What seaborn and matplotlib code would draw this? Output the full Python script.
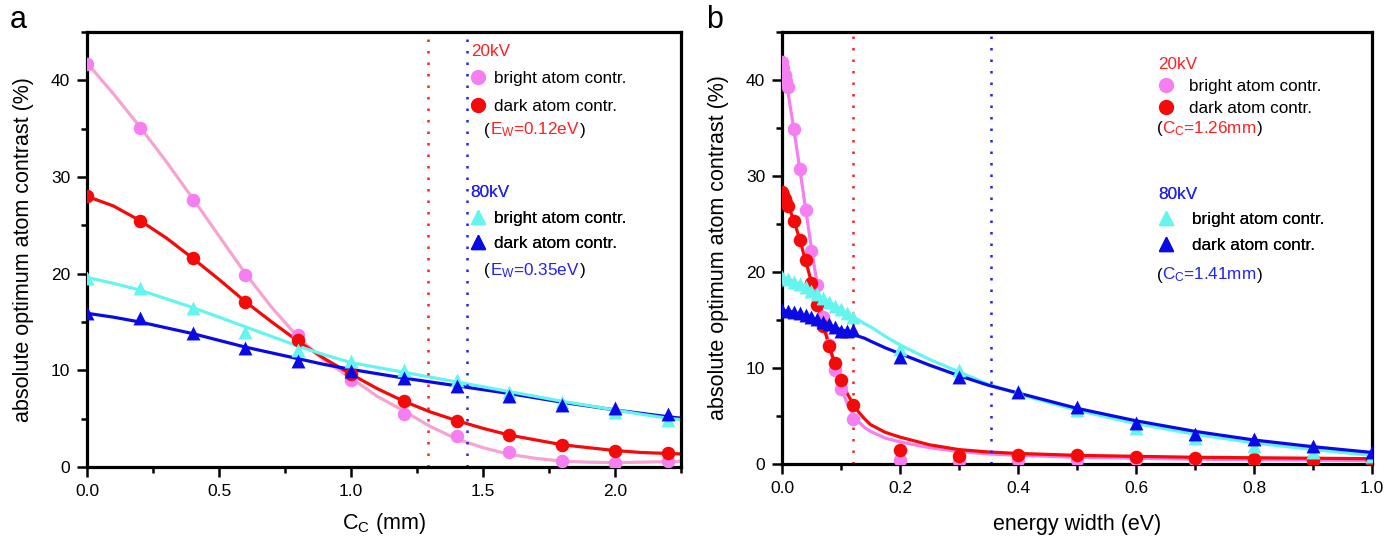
import matplotlib
matplotlib.use("Agg")
import matplotlib.pyplot as plt
from matplotlib.lines import Line2D
from matplotlib.ticker import MultipleLocator, FuncFormatter
from matplotlib.offsetbox import TextArea, HPacker, AnchoredOffsetbox
import seaborn as sns

# ---------------- panel a : contrast vs Cc (mm) ----------------
cc_pts = [0.0, 0.2, 0.4, 0.6, 0.8, 1.0, 1.2, 1.4, 1.6, 1.8, 2.0, 2.2]
a_bright20 = [41.7, 35.1, 27.6, 19.9, 13.7, 9.0, 5.5, 3.2, 1.6, 0.6, 0.4, 0.6]
a_dark20 = [28.0, 25.4, 21.6, 17.1, 13.1, 9.6, 6.8, 4.8, 3.3, 2.3, 1.7, 1.4]
a_bright80 = [19.5, 18.5, 16.4, 14.0, 12.1, 11.0, 10.0, 9.0, 7.8, 6.7, 5.7, 4.9]
a_dark80 = [15.9, 15.4, 13.9, 12.3, 11.0, 9.9, 9.2, 8.4, 7.3, 6.4, 6.1, 5.5]

# fitted curves
cc_fit = [0.0, 0.1, 0.2, 0.3, 0.4, 0.5, 0.6, 0.7, 0.8, 0.9, 1.0, 1.1,
          1.2, 1.3, 1.4, 1.5, 1.6, 1.7, 1.8, 1.9, 2.0, 2.1, 2.2, 2.25]
a_fit_bright20 = [41.8, 38.6, 35.2, 31.6, 27.8, 23.9, 20.0, 16.5, 13.4, 11.0, 9.2, 7.3,
                  5.8, 4.2, 2.9, 2.0, 1.3, 0.9, 0.6, 0.5, 0.45, 0.5, 0.55, 0.6]
a_fit_dark20 = [28.0, 27.0, 25.5, 23.7, 21.6, 19.4, 17.1, 15.0, 13.0, 11.2, 9.6, 8.1,
                6.8, 5.7, 4.8, 4.0, 3.3, 2.8, 2.3, 2.0, 1.7, 1.5, 1.4, 1.35]
a_fit_bright80 = [19.6, 19.0, 18.3, 17.4, 16.5, 15.5, 14.5, 13.5, 12.5, 11.6, 10.8, 10.3,
                  9.8, 9.3, 8.8, 8.3, 7.8, 7.3, 6.8, 6.35, 5.9, 5.45, 5.05, 4.9]
a_fit_dark80 = [15.9, 15.5, 15.0, 14.4, 13.8, 13.1, 12.4, 11.8, 11.2, 10.6, 10.1, 9.65,
                9.2, 8.8, 8.4, 8.0, 7.6, 7.15, 6.7, 6.3, 5.9, 5.55, 5.2, 5.05]
a_marks = [1.29, 1.44]  # dotted lines (20kV, 80kV)

# ---------------- panel b : contrast vs energy width (eV) ----------------
ew_circ = [0.0, 0.0025, 0.005, 0.0075, 0.01, 0.02, 0.03, 0.04, 0.05, 0.06, 0.07, 0.08,
           0.09, 0.10, 0.12, 0.2, 0.3, 0.4, 0.5, 0.6, 0.7, 0.8, 0.9, 1.0]
b_bright20 = [41.9, 41.2, 40.5, 39.9, 39.3, 34.9, 30.7, 26.5, 22.2, 18.6, 15.3, 12.4,
              9.8, 7.8, 4.7, 0.4, 0.35, 0.4, 0.45, 0.5, 0.45, 0.4, 0.4, 0.35]
b_dark20 = [28.3, 28.0, 27.6, 27.2, 26.9, 25.3, 23.3, 21.2, 18.9, 16.6, 14.4, 12.3,
            10.5, 8.8, 6.1, 1.5, 0.8, 0.95, 0.95, 0.7, 0.6, 0.5, 0.45, 0.45]
ew_tri = [0.0, 0.01, 0.02, 0.03, 0.04, 0.05, 0.06, 0.07, 0.08, 0.09, 0.10, 0.11, 0.12,
          0.2, 0.3, 0.4, 0.5, 0.6, 0.7, 0.8, 0.9, 1.0]
b_bright80 = [19.5, 19.3, 19.0, 18.7, 18.4, 18.0, 17.7, 17.3, 16.9, 16.5, 16.1, 15.7, 15.3,
              12.0, 9.8, 7.6, 5.6, 3.8, 2.75, 1.9, 1.2, 0.8]
b_dark80 = [16.0, 15.9, 15.8, 15.7, 15.5, 15.3, 15.1, 14.8, 14.6, 14.3, 13.9, 13.9, 14.0,
            11.1, 9.1, 7.5, 5.9, 4.3, 3.1, 2.6, 1.9, 1.2]

ew_fit = [0.0, 0.01, 0.02, 0.03, 0.04, 0.05, 0.06, 0.07, 0.08, 0.09, 0.10, 0.11, 0.12, 0.13,
          0.14, 0.15, 0.175, 0.2, 0.25, 0.3, 0.35, 0.4, 0.5, 0.6, 0.7, 0.8, 0.9, 1.0]
b_fit_bright20 = [42.0, 38.8, 34.9, 30.8, 26.6, 22.4, 18.6, 15.2, 12.3, 9.9, 8.0, 6.4, 5.2, 4.4,
                  3.8, 3.4, 2.7, 2.3, 1.7, 1.3, 1.05, 0.9, 0.7, 0.6, 0.5, 0.45, 0.4, 0.35]
b_fit_dark20 = [28.2, 27.0, 25.4, 23.4, 21.2, 18.9, 16.6, 14.4, 12.3, 10.4, 8.8, 7.4, 6.3, 5.4,
                4.7, 4.1, 3.3, 2.8, 2.0, 1.5, 1.25, 1.1, 0.9, 0.8, 0.7, 0.65, 0.6, 0.55]
b_fit_bright80 = [19.5, 19.3, 19.0, 18.7, 18.3, 18.0, 17.6, 17.2, 16.8, 16.5, 16.1, 15.7, 15.3, 15.0,
                  14.6, 14.3, 13.3, 12.4, 10.9, 9.6, 8.3, 7.3, 5.6, 4.2, 3.1, 2.2, 1.5, 0.9]
b_fit_dark80 = [16.0, 15.9, 15.8, 15.6, 15.4, 15.2, 15.0, 14.7, 14.5, 14.2, 14.0, 13.8, 13.6, 13.3,
                13.1, 12.8, 12.1, 11.5, 10.3, 9.2, 8.2, 7.4, 5.8, 4.5, 3.4, 2.5, 1.8, 1.2]
b_marks = [0.12, 0.355]

# colours
PINK = "#f57ff0"
PINK_LINE_A = "#f7a3d2"
RED = "#f50a0a"
CYAN = "#66f5ee"
BLUE = "#0a0ae6"
RED_TXT = "#ff1f1f"
BLUE_TXT = "#2222f0"

sns.set_theme(style="ticks")
plt.rcParams["font.family"] = ["Liberation Sans", "DejaVu Sans"]
plt.rcParams["mathtext.fontset"] = "custom"
plt.rcParams["mathtext.rm"] = "Liberation Sans"
plt.rcParams["mathtext.it"] = "Liberation Sans:italic"
plt.rcParams["text.color"] = "black"
plt.rcParams["axes.labelcolor"] = "black"
plt.rcParams["xtick.color"] = "black"
plt.rcParams["ytick.color"] = "black"

FS_TXT = 12.3


def fit_line(ax, x, y, color, lw=2.3):
  sns.lineplot(x=x, y=y, ax=ax, color=color, linewidth=lw, sort=False, estimator=None)


def points(ax, x, y, color, marker, s):
  sns.scatterplot(x=x, y=y, ax=ax, color=color, marker=marker, s=s, linewidth=0, zorder=3)


def set_ticks(axis, step, every, fmt, long_len=7, short_len=4):
  # every tick is a major one; in-between ticks get no label and a shorter mark.
  # the marks are set tick by tick (the ones left to tick_params did not show)
  def is_labelled(v):
    k = v / step
    return abs(k - round(k)) < 1e-6 and round(k) % every == 0

  axis.set_major_locator(MultipleLocator(step))
  axis.set_major_formatter(FuncFormatter(lambda v, p: fmt.format(v) if is_labelled(v) else ""))
  locs = axis.get_majorticklocs()
  ticks = axis.get_major_ticks(len(locs))
  for t, loc in zip(ticks, locs):
    line = t.tick1line
    line.set_visible(True)
    line.set_markersize(long_len if is_labelled(loc) else short_len)
    line.set_markeredgewidth(1.8)
    line.set_markeredgecolor("black")
    line.set_color("black")
    line.set_alpha(1)
    line.set_zorder(5)


def style_axes(ax, xmax, xstep):
  ax.set_xlim(0, xmax)
  ax.set_ylim(0, 45)
  ax.tick_params(which="major", direction="out", length=7, width=1.8, color="black",
                 labelsize=12.5, pad=5)
  set_ticks(ax.xaxis, xstep, 2, "{:.1f}")
  set_ticks(ax.yaxis, 5, 2, "{:.0f}")
  for sp in ax.spines.values():
    sp.set_linewidth(2.3)
    sp.set_color("black")
    sp.set_visible(True)
  ax.set_ylabel("absolute optimum atom contrast (%)", fontsize=15.5, labelpad=12)


def legend_group(ax, title, color, handles, labels, anchor, textpad, spacing):
  leg = ax.legend(handles, labels, title=title, loc="upper left", bbox_to_anchor=anchor,
                  frameon=False, alignment="left", borderpad=0, borderaxespad=0,
                  handlelength=0.9, handletextpad=textpad, labelspacing=spacing,
                  fontsize=FS_TXT, title_fontsize=FS_TXT)
  leg.get_title().set_color(color)
  ax.add_artist(leg)


def note(ax, inner, color, xy):
  parts = [TextArea("(", textprops=dict(fontsize=FS_TXT, color="black")),
           TextArea(inner, textprops=dict(fontsize=FS_TXT, color=color)),
           TextArea(")", textprops=dict(fontsize=FS_TXT, color="black"))]
  box = HPacker(children=parts, align="baseline", pad=0, sep=0)
  anch = AnchoredOffsetbox(loc="center left", child=box, bbox_to_anchor=xy,
                           bbox_transform=ax.transAxes, frameon=False, pad=0, borderpad=0)
  ax.add_artist(anch)


def handles_20():
  return [Line2D([], [], ls="none", marker="o", color=PINK, markersize=10),
          Line2D([], [], ls="none", marker="o", color=RED, markersize=10)]


def handles_80():
  return [Line2D([], [], ls="none", marker="^", color=CYAN, markersize=10),
          Line2D([], [], ls="none", marker="^", color=BLUE, markersize=10)]


fig = plt.figure(figsize=(13.95, 5.38), dpi=100)
ax_a = fig.add_axes([0.06237, 0.13197, 0.4258, 0.8086])
ax_b = fig.add_axes([0.56057, 0.13755, 0.42294, 0.80297])

# ---- panel a ----
fit_line(ax_a, cc_fit, a_fit_bright20, PINK_LINE_A)
fit_line(ax_a, cc_fit, a_fit_dark20, RED)
fit_line(ax_a, cc_fit, a_fit_dark80, BLUE)
fit_line(ax_a, cc_fit, a_fit_bright80, CYAN)
points(ax_a, cc_pts, a_bright20, PINK, "o", 95)
points(ax_a, cc_pts, a_dark20, RED, "o", 95)
points(ax_a, cc_pts, a_bright80, CYAN, "^", 100)
points(ax_a, cc_pts, a_dark80, BLUE, "^", 100)
ax_a.axvline(a_marks[0], color=RED_TXT, linestyle=(0, (1, 3.6)), linewidth=1.8)
ax_a.axvline(a_marks[1], color=BLUE_TXT, linestyle=(0, (1, 3.6)), linewidth=1.8)
style_axes(ax_a, 2.25, 0.25)
ax_a.set_xlabel(r"C$_\mathregular{C}$ (mm)", fontsize=15.5, labelpad=9)

labels = ["bright atom contr.", "dark atom contr."]
legend_group(ax_a, "20kV", RED_TXT, handles_20(), labels, (0.646, 0.972), 0.45, 0.72)
note(ax_a, r"E$_\mathregular{W}$=0.12eV", RED_TXT, (0.669, 0.775))
legend_group(ax_a, "80kV", BLUE_TXT, handles_80(), labels, (0.646, 0.648), 0.45, 0.62)
note(ax_a, r"E$_\mathregular{W}$=0.35eV", BLUE_TXT, (0.669, 0.451))

# ---- panel b ----
fit_line(ax_b, ew_fit, b_fit_bright20, PINK)
fit_line(ax_b, ew_fit, b_fit_dark20, RED)
fit_line(ax_b, ew_fit, b_fit_bright80, CYAN)
fit_line(ax_b, ew_fit, b_fit_dark80, BLUE)
points(ax_b, ew_circ, b_bright20, PINK, "o", 95)
points(ax_b, ew_circ, b_dark20, RED, "o", 95)
points(ax_b, ew_tri, b_bright80, CYAN, "^", 100)
points(ax_b, ew_tri, b_dark80, BLUE, "^", 100)
ax_b.axvline(b_marks[0], color=RED_TXT, linestyle=(0, (1, 3.6)), linewidth=1.8)
ax_b.axvline(b_marks[1], color=BLUE_TXT, linestyle=(0, (1, 3.6)), linewidth=1.8)
style_axes(ax_b, 1.0, 0.1)
ax_b.set_xlabel("energy width (eV)", fontsize=15.5, labelpad=13)

legend_group(ax_b, "20kV", RED_TXT, handles_20(), labels, (0.637, 0.943), 0.9, 0.42)
note(ax_b, r"C$_\mathregular{C}$=1.26mm", RED_TXT, (0.635, 0.777))
legend_group(ax_b, "80kV", BLUE_TXT, handles_80(), labels, (0.637, 0.641), 1.1, 0.6)
note(ax_b, r"C$_\mathregular{C}$=1.41mm", BLUE_TXT, (0.635, 0.4375))

fig.text(0.0129, 0.963, "a", fontsize=22, va="center", ha="center")
fig.text(0.5123, 0.963, "b", fontsize=22, va="center", ha="center")

fig.savefig("out.png", dpi=100)
